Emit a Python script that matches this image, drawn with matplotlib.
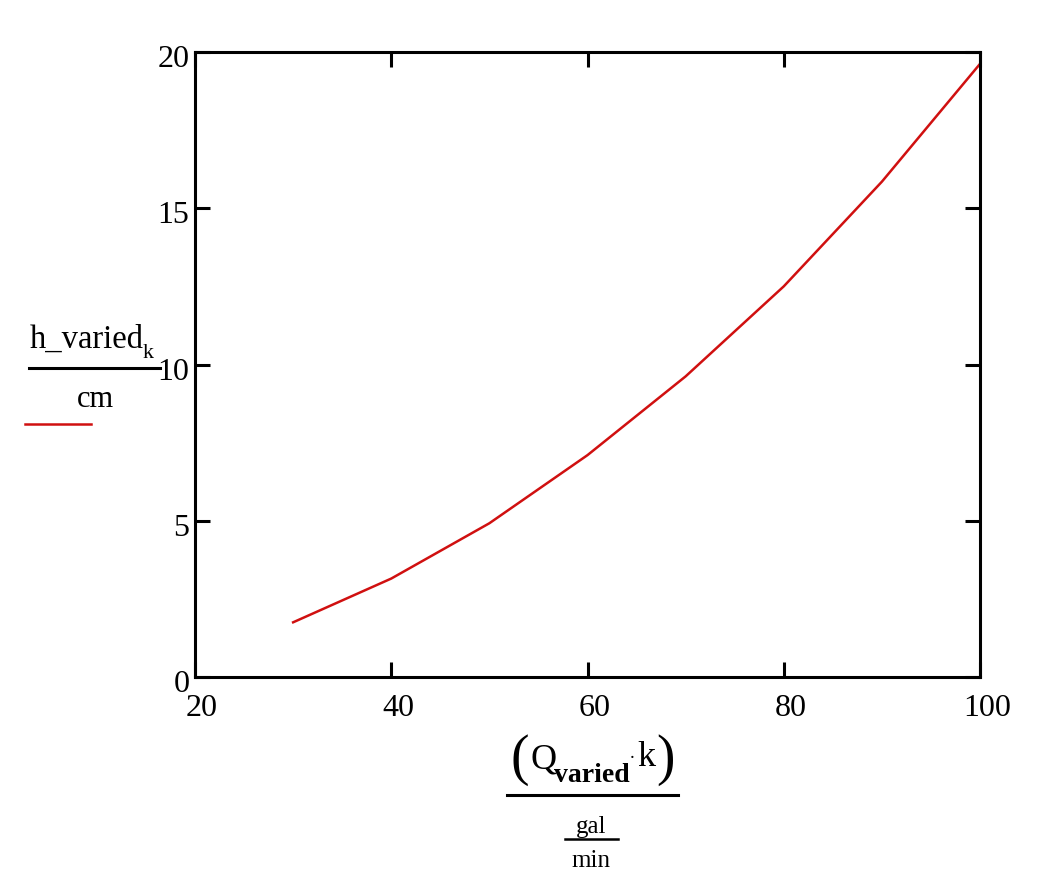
import numpy as np
import matplotlib
matplotlib.use('Agg')
import matplotlib.pyplot as plt
from matplotlib.lines import Line2D
from matplotlib.transforms import ScaledTranslation

# values
q_varied = [30, 40, 50, 60, 70, 80, 90, 100]
h_varied = [1.75, 3.15, 4.92, 7.1, 9.62, 12.5, 15.85, 19.62]
x_ticks = [20, 40, 60, 80, 100]
y_ticks = [0, 5, 10, 15, 20]

W, H = 1041, 890
plt.rcParams['font.family'] = ['Liberation Serif', 'DejaVu Serif']

fig = plt.figure(figsize=(W / 100, H / 100), dpi=100)
ax = fig.add_axes([195 / W, 1 - 677 / H, 785 / W, 625 / H])

ax.plot(q_varied, h_varied, color='#d01010', lw=1.8)
ax.set_xlim(20, 100)
ax.set_ylim(0, 20)
ax.set_xticks(x_ticks)
ax.set_yticks(y_ticks)
ax.set_xticklabels([str(v) for v in x_ticks])
ax.set_yticklabels([str(v) for v in y_ticks])
ax.tick_params(direction='in', length=11, width=2.2, top=True, right=True,
               labelsize=23, pad=4)
ax.tick_params(axis='x', pad=12)
for s in ax.spines.values():
    s.set_linewidth(2.2)

# nudge tick labels like mathcad does
for lab in ax.get_xticklabels():
    lab.set_transform(lab.get_transform() + ScaledTranslation(7 / 100, 0, fig.dpi_scale_trans))
for lab in ax.get_yticklabels():
    lab.set_transform(lab.get_transform() + ScaledTranslation(0, -4 / 100, fig.dpi_scale_trans))


def px(x, y):
    return x / W, 1 - y / H


def hline(x0, x1, y, lw=2.2, color='black'):
    a, b = px(x0, y)
    c, _ = px(x1, y)
    fig.add_artist(Line2D([a, c], [b, b], color=color, lw=lw, transform=fig.transFigure))


# y label: h_varied_k / cm
fig.text(*px(30, 348), 'h_varied', fontsize=23.5, va='baseline', ha='left')
fig.text(*px(143, 358), 'k', fontsize=16, va='baseline', ha='left')
hline(29, 160, 368)
fig.text(*px(95, 407), 'cm', fontsize=22, va='baseline', ha='center')
hline(25, 91, 424, lw=1.8, color='#d01010')

# x label: (Q_varied . k) / (gal/min)
fig.text(*px(529, 760), '(', fontsize=40, va='center', ha='right')
fig.text(*px(530, 769), 'Q', fontsize=26, va='baseline', ha='left')
fig.text(*px(554, 782), 'varied', fontsize=20, fontweight='bold', va='baseline', ha='left')
fig.text(*px(630, 758), '.', fontsize=14, va='baseline', ha='left')
fig.text(*px(637, 766), 'k', fontsize=26, va='baseline', ha='left')
fig.text(*px(656, 760), ')', fontsize=40, va='center', ha='left')
hline(507, 678, 795)
fig.text(*px(591, 833), 'gal', fontsize=18, va='baseline', ha='center')
hline(565, 618, 839, lw=1.8)
fig.text(*px(591, 867), 'min', fontsize=18, va='baseline', ha='center')

fig.savefig('out.png', dpi=100)
